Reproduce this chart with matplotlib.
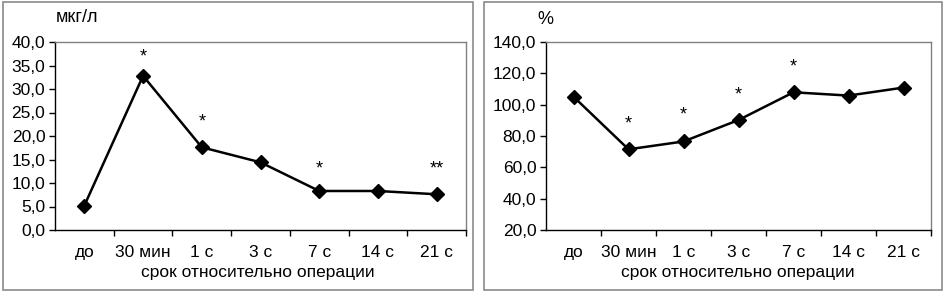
import matplotlib
matplotlib.use("Agg")
import matplotlib.pyplot as plt
from matplotlib.patches import Rectangle

plt.rcParams['font.family'] = ['Liberation Sans', 'DejaVu Sans']

categories = ["до", "30 мин", "1 с", "3 с", "7 с", "14 с", "21 с"]
left_values = [5.2, 32.8, 17.6, 14.4, 8.3, 8.3, 7.6]
right_values = [105.1, 71.5, 76.5, 90.2, 107.9, 105.8, 110.9]
left_marks = {1: "*", 2: "*", 4: "*", 6: "**"}
right_marks = {1: "*", 2: "*", 3: "*", 4: "*"}
left_mark_y = {1: 36.8, 2: 22.9, 4: 13.0, 6: 13.0}
right_mark_y = {1: 87.5, 2: 93.3, 3: 106.2, 4: 123.9}
left_yticks = [0, 5, 10, 15, 20, 25, 30, 35, 40]
right_yticks = [20, 40, 60, 80, 100, 120, 140]
xlabel = "срок относительно операции"

W, H = 946, 293
fig = plt.figure(figsize=(W / 100, H / 100), dpi=100)

def fx(px):
    return px / W

def fy(py):
    return 1 - py / H

# outer frames
for x0, x1 in [(3, 473), (484, 942)]:
    fig.patches.append(Rectangle((fx(x0), fy(290)), fx(x1 - x0), (290 - 2) / H,
                                 transform=fig.transFigure, fill=False,
                                 edgecolor="#8a8a8a", linewidth=1.2))

def panel(xl, xr, values, ymin, ymax, yticks, marks, mark_y, unit, unit_xy, xlab_x):
    ax = fig.add_axes([fx(xl), fy(230), fx(xr - xl), (230 - 42) / H])
    n = len(categories)
    xs = list(range(n))
    ax.plot(xs, values, color="black", linewidth=1.8, marker="D",
            markersize=6.8, markerfacecolor="black", markeredgecolor="black",
            clip_on=False, zorder=3)
    ax.set_xlim(-0.5, n - 0.5)
    ax.set_ylim(ymin, ymax)
    ax.set_yticks(yticks)
    ax.set_yticklabels([f"{v:.1f}".replace(".", ",") for v in yticks], fontsize=12.5)
    ax.set_xticks(xs)
    ax.set_xticklabels(categories, fontsize=12.5)
    ax.set_xticks([i + 0.5 for i in range(n)], minor=True)
    ax.tick_params(axis="x", which="major", length=0, pad=11)
    ax.tick_params(axis="x", which="minor", length=4, width=1, direction="out")
    ax.tick_params(axis="y", length=4, width=1, direction="out", pad=3)
    for s in ["left", "bottom"]:
        ax.spines[s].set_color("black")
        ax.spines[s].set_linewidth(1.0)
    for s in ["top", "right"]:
        ax.spines[s].set_color("#808080")
        ax.spines[s].set_linewidth(1.0)
    for i, m in marks.items():
        ax.text(i, mark_y[i], m, ha="center", va="center", fontsize=13)
    fig.text(fx(unit_xy[0]), fy(unit_xy[1]), unit, ha="left", va="center", fontsize=13)
    fig.text(fx(xlab_x), fy(272), xlabel, ha="center", va="center", fontsize=12.5)
    return ax

panel(55, 466, left_values, 0, 40, left_yticks, left_marks, left_mark_y,
      "мкг/л", (56, 17), 258)
panel(546, 931, right_values, 20, 140, right_yticks, right_marks, right_mark_y,
      "%", (537, 20), 738)

fig.savefig("out.png", dpi=100)
